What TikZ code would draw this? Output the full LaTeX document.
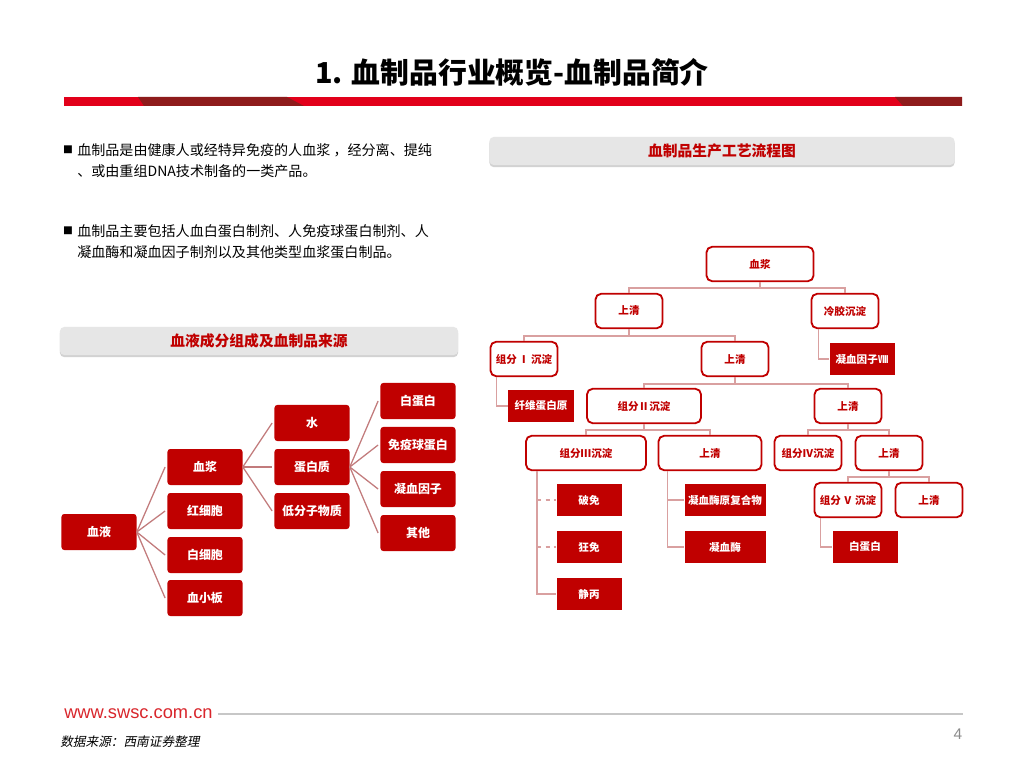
\documentclass[tikz,border=0pt]{standalone}
\usepackage{fontspec}
\setmainfont{Noto Sans CJK SC}
\newfontfamily\slantcjk{Noto Sans CJK SC}[FakeSlant=0.2]
\newfontfamily\webfont{Liberation Sans}
\usetikzlibrary{positioning,calc,shadows}

\definecolor{bred}{HTML}{C00000}
\definecolor{barred}{HTML}{E2001A}
\definecolor{bardark}{HTML}{8E1B1B}
\definecolor{linkred}{HTML}{C27B7C}
\definecolor{flowline}{HTML}{D9A0A0}
\definecolor{headgray}{HTML}{E6E6E6}
\definecolor{urlred}{HTML}{D9262C}

\tikzset{
  headbar/.style={rectangle,rounded corners=3pt,fill=headgray,
    drop shadow={shadow xshift=0pt,shadow yshift=-1.5pt,opacity=0.35},
    text=bred,font=\bfseries\fontsize{10.5}{12}\selectfont,
    minimum height=0.7cm,inner sep=0pt},
  compbox/.style={rectangle,rounded corners=2pt,fill=bred,text=white,
    font=\bfseries\fontsize{8.5}{10}\selectfont,
    minimum width=1.875cm,minimum height=0.9cm,inner sep=0pt},
  stagebox/.style={rectangle,rounded corners=4pt,draw=bred,line width=1.3pt,
    fill=white,text=bred,font=\bfseries\fontsize{7.5}{9}\selectfont,
    minimum width=1.675cm,minimum height=0.86cm,inner sep=0pt},
  prodbox/.style={rectangle,fill=bred,text=white,
    font=\bfseries\fontsize{7.5}{9}\selectfont,
    minimum width=1.625cm,minimum height=0.8cm,inner sep=0pt},
  fan/.style={draw=linkred,line width=0.9pt},
  flow/.style={draw=flowline,line width=1pt},
  bodytext/.style={anchor=west,inner sep=0pt,font=\fontsize{10}{12}\selectfont}
}

\begin{document}
\begin{tikzpicture}[x=0.025cm,y=-0.025cm]
\useasboundingbox[fill=white] (0,0) rectangle (1024,768);

% title with bar
\node[font=\bfseries\fontsize{20.5}{24}\selectfont] (title) at (512,72) {1. 血制品行业概览-血制品简介};
\fill[barred] (64,97) rectangle (962,106);
\fill[bardark] (138,97) -- (287,97) -- (304,106) -- (144,106) -- cycle;
\fill[bardark] (895,97) -- (962,97) -- (962,106) -- (903,106) -- cycle;

% bullet text
\node[font=\fontsize{7}{8}\selectfont,inner sep=0pt] (bul1) at (68,150) {■};
\node[bodytext] (txt1a) at (77,150) {血制品是由健康人或经特异免疫的人血浆 ，经分离、提纯};
\node[bodytext] (txt1b) at (77,171) {、或由重组DNA技术制备的一类产品。};
\node[font=\fontsize{7}{8}\selectfont,inner sep=0pt] (bul2) at (68,231) {■};
\node[bodytext] (txt2a) at (77,231) {血制品主要包括人血白蛋白制剂、人免疫球蛋白制剂、人};
\node[bodytext] (txt2b) at (77,252) {凝血酶和凝血因子制剂以及其他类型血浆蛋白制品。};

% section headers
\node[headbar,minimum width=9.95cm] (lefthead) at (259,341) {血液成分组成及血制品来源};
\node[headbar,minimum width=11.625cm] (righthead) at (722,151) {血制品生产工艺流程图};

% blood components
\node[compbox] (blood) at (99,532) {血液};
\node[compbox] (plasma) at (205,467) {血浆};
\node[compbox] (rbc) at (205,511) {红细胞};
\node[compbox] (wbc) at (205,555) {白细胞};
\node[compbox] (plt) at (205,598) {血小板};
\node[compbox] (water) at (312,423) {水};
\node[compbox] (protein) at (312,467) {蛋白质};
\node[compbox] (lowmol) at (312,511) {低分子物质};
\node[compbox] (alb) at (418,401) {白蛋白};
\node[compbox] (igg) at (418,445) {免疫球蛋白};
\node[compbox] (coag) at (418,489) {凝血因子};
\node[compbox] (other) at (418,533) {其他};

\foreach \c in {plasma,rbc,wbc,plt}
  \draw[fan] (blood.east) -- ([xshift=-1.5pt]\c.west);
\foreach \c in {water,protein,lowmol}
  \draw[fan] (plasma.east) -- ([xshift=-1.5pt]\c.west);
\foreach \c in {alb,igg,coag,other}
  \draw[fan] (protein.east) -- ([xshift=-1.5pt]\c.west);

% fractionation flow
\node[stagebox,minimum width=2.675cm] (raw) at (760,264) {血浆};
\node[stagebox] (sup1) at (629,311) {上清};
\node[stagebox] (cryo) at (845,311) {冷胶沉淀};
\node[stagebox] (frac1) at (524,359) {组分\,Ⅰ\,沉淀};
\node[stagebox] (sup2) at (735,359) {上清};
\node[prodbox] (f8) at (862,359) {凝血因子Ⅷ};
\node[prodbox] (fib) at (541,406) {纤维蛋白原};
\node[stagebox,minimum width=2.85cm] (frac2) at (644,406) {组分Ⅱ沉淀};
\node[stagebox] (sup3) at (848,406) {上清};
\node[stagebox,minimum width=3cm] (frac3) at (586,453) {组分Ⅲ沉淀};
\node[stagebox,minimum width=2.575cm] (sup4) at (710,453) {上清};
\node[stagebox] (frac4) at (808,453) {组分Ⅳ沉淀};
\node[stagebox] (sup5) at (889,453) {上清};
\node[stagebox] (frac5) at (848,500) {组分\,Ⅴ\,沉淀};
\node[stagebox] (sup6) at (929,500) {上清};
\node[prodbox] (pomian) at (589,500) {破免};
\node[prodbox] (kuangmian) at (589,547) {狂免};
\node[prodbox] (jingbing) at (589,594) {静丙};
\node[prodbox,minimum width=2.025cm] (pcc) at (725,500) {凝血酶原复合物};
\node[prodbox,minimum width=2.025cm] (thr) at (725,547) {凝血酶};
\node[prodbox] (alb2) at (865,547) {白蛋白};

% splits
\draw[flow] (raw.south) -- ++(0,6) -| (sup1.north);
\draw[flow] (raw.south) -- ++(0,6) -| (cryo.north);
\draw[flow] (sup1.south) -- ++(0,7) -| (frac1.north);
\draw[flow] (sup1.south) -- ++(0,7) -| (sup2.north);
\draw[flow] (sup2.south) -- ++(0,7) -| (frac2.north);
\draw[flow] (sup2.south) -- ++(0,7) -| (sup3.north);
\draw[flow] (frac2.south) -- ++(0,6) -| (frac3.north);
\draw[flow] (frac2.south) -- ++(0,6) -| (sup4.north);
\draw[flow] (sup3.south) -- ++(0,6) -| (frac4.north);
\draw[flow] (sup3.south) -- ++(0,6) -| (sup5.north);
\draw[flow] (sup5.south) -- ++(0,6) -| (frac5.north);
\draw[flow] (sup5.south) -- ++(0,6) -| (sup6.north);

% products
\draw[flow] ($(cryo.south west)+(8,0)$) |- (f8.west);
\draw[flow] ($(frac1.south west)+(7,0)$) |- (fib.west);
\coordinate (t3) at ($(frac3.south west)+(12,0)$);
\draw[flow] (t3) |- (jingbing.west);
\draw[flow,dashed] (t3 |- pomian.west) -- (pomian.west);
\draw[flow,dashed] (t3 |- kuangmian.west) -- (kuangmian.west);
\coordinate (t4) at ($(sup4.south west)+(10,0)$);
\draw[flow] (t4) |- (thr.west);
\draw[flow] (t4 |- pcc.west) -- (pcc.west);
\draw[flow] ($(frac5.south west)+(7,0)$) |- (alb2.west);

% footer
\node[anchor=west,inner sep=0pt,text=urlred,font=\webfont\fontsize{13}{15}\selectfont] (url) at (64,714) {www.swsc.com.cn};
\coordinate (ruleend) at (963,714);
\draw[draw=black!22,line width=1.5pt] ([xshift=4pt]url.east) -- (ruleend);
\node[anchor=west,inner sep=0pt,font=\slantcjk\fontsize{9}{11}\selectfont] (src) at (60,742) {数据来源：西南证券整理};
\node[text=black!45,font=\webfont\fontsize{11}{13}\selectfont] (page) at (958,734) {4};
\end{tikzpicture}
\end{document}
